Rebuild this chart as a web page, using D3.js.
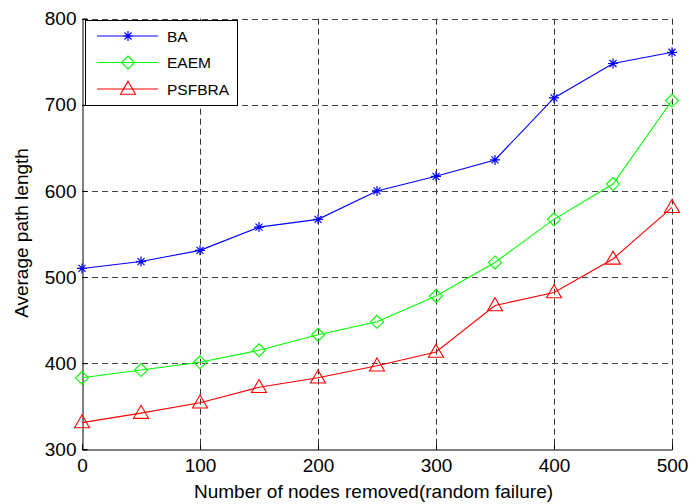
<!DOCTYPE html>
<html>
<head>
<meta charset="utf-8">
<script src="https://cdn.jsdelivr.net/npm/d3@7"></script>
<style>
  html, body { margin: 0; padding: 0; background: #fff; }
  svg text { font-family: Arial, "Liberation Sans", sans-serif; fill: #000; }
</style>
</head>
<body>
<svg id="chart" width="691" height="504"></svg>
<script>
// Nodes removed (random failure)
const removed = [0, 50, 100, 150, 200, 250, 300, 350, 400, 450, 500];
// Average path length per model
const baValues     = [510, 518, 531, 558, 567, 600, 617, 636, 708, 748, 761];
const eaemValues   = [383, 392, 401, 415, 433, 448, 478, 517, 567, 608, 705];
const psfbraValues = [331, 342, 354, 372, 383, 397, 413, 467, 482, 521, 581];
const seriesNames  = ["BA", "EAEM", "PSFBRA"];
const xTicks = [0, 100, 200, 300, 400, 500];
const yTicks = [300, 400, 500, 600, 700, 800];

const svg = d3.select("#chart");
const plotLeft = 82, plotRight = 672, plotTop = 18.7, plotBottom = 449.3;

const x = d3.scaleLinear().domain([0, 500]).range([plotLeft, plotRight]);
const y = d3.scaleLinear().domain([300, 800]).range([plotBottom, plotTop]);

// dashed grid
const grid = svg.append("g");
grid.selectAll("line.v").data(xTicks.slice(1)).join("line")
  .attr("x1", d => Math.round(x(d)) + 0.5).attr("x2", d => Math.round(x(d)) + 0.5)
  .attr("y1", plotTop).attr("y2", plotBottom)
  .attr("stroke", "#333").attr("stroke-width", 1).attr("stroke-dasharray", "6,4");
grid.selectAll("line.h").data(yTicks.slice(1)).join("line")
  .attr("x1", plotLeft).attr("x2", plotRight)
  .attr("y1", d => Math.round(y(d)) + 0.5).attr("y2", d => Math.round(y(d)) + 0.5)
  .attr("stroke", "#444").attr("stroke-width", 1).attr("stroke-dasharray", "6,4");

// axes with inward ticks
const xAxis = d3.axisBottom(x).tickValues(xTicks).tickSize(-5).tickPadding(9).tickFormat(d3.format("d"));
const yAxis = d3.axisLeft(y).tickValues(yTicks).tickSize(-5).tickPadding(6).tickFormat(d3.format("d"));

const gx = svg.append("g").attr("transform", `translate(0,${Math.round(plotBottom) + 0.5})`).call(xAxis);
const gy = svg.append("g").attr("transform", `translate(${plotLeft + 0.5},0)`).call(yAxis);
[gx, gy].forEach(g => {
  g.select(".domain").attr("stroke", "#000").attr("stroke-width", 1);
  g.selectAll(".tick line").attr("stroke", "#000");
  g.selectAll(".tick text").attr("font-size", 19).attr("font-family", "Arial, 'Liberation Sans', sans-serif");
});
gx.selectAll(".tick text").attr("dy", "0.71em");

// axis titles
svg.append("text").attr("x", 373.5).attr("y", 498)
  .attr("text-anchor", "middle").attr("font-size", 19)
  .text("Number of nodes removed(random failure)");
svg.append("text").attr("transform", `translate(27.5,233) rotate(-90)`)
  .attr("text-anchor", "middle").attr("font-size", 19)
  .text("Average path length");

// marker shapes
function drawMarker(g, type, color) {
  if (type === "star") {
    const r = 5;
    g.append("path")
      .attr("d", `M${-r},0H${r}M0,${-r}V${r}M${-r*0.7},${-r*0.7}L${r*0.7},${r*0.7}M${-r*0.7},${r*0.7}L${r*0.7},${-r*0.7}`)
      .attr("stroke", color).attr("stroke-width", 1.2).attr("fill", "none");
  } else if (type === "diamond") {
    const r = 6.5;
    g.append("path").attr("d", `M0,${-r}L${r},0L0,${r}L${-r},0Z`)
      .attr("stroke", color).attr("stroke-width", 1.1).attr("fill", "none");
  } else {
    const w = 7.5, h = 13;
    g.append("path").attr("d", `M0,${-h * 0.6}L${w},${h * 0.4}L${-w},${h * 0.4}Z`)
      .attr("stroke", color).attr("stroke-width", 1.1).attr("fill", "none");
  }
}

const series = [
  { name: seriesNames[0], values: baValues,     color: "#0000ff", marker: "star" },
  { name: seriesNames[1], values: eaemValues,   color: "#00ff00", marker: "diamond" },
  { name: seriesNames[2], values: psfbraValues, color: "#ff0000", marker: "triangle" }
];

const line = d3.line().x((d, i) => x(removed[i])).y(d => y(d));

series.forEach(s => {
  svg.append("path").datum(s.values).attr("d", line)
    .attr("fill", "none").attr("stroke", s.color).attr("stroke-width", 1.1);
  s.values.forEach((v, i) => {
    const g = svg.append("g").attr("transform", `translate(${x(removed[i])},${y(v)})`);
    drawMarker(g, s.marker, s.color);
  });
});

// legend
const lg = svg.append("g");
lg.append("rect").attr("x", 85.5).attr("y", 20.5).attr("width", 152).attr("height", 85)
  .attr("fill", "#fff").attr("stroke", "#000").attr("stroke-width", 1);
series.forEach((s, i) => {
  const ly = 36 + i * 26.5;
  lg.append("line").attr("x1", 97).attr("x2", 158).attr("y1", ly).attr("y2", ly)
    .attr("stroke", s.color).attr("stroke-width", 1.1);
  const g = lg.append("g").attr("transform", `translate(128,${ly})`);
  drawMarker(g, s.marker, s.color);
  lg.append("text").attr("x", 167).attr("y", ly).attr("dy", "0.36em")
    .attr("font-size", 15.5).text(s.name);
});
</script>
</body>
</html>
